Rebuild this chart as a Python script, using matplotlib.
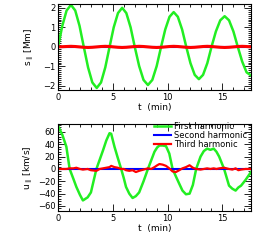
import matplotlib
matplotlib.use("Agg")
import matplotlib.pyplot as plt
from matplotlib.ticker import MultipleLocator

# ---- top panel: displacement (Mm) ----
t_s = [0.0, 0.39, 0.78, 1.18, 1.57, 1.96,
       2.35, 2.74, 3.13, 3.53, 3.92, 4.31,
       4.7, 5.08, 5.47, 5.85, 6.23, 6.62,
       7.0, 7.4, 7.8, 8.2, 8.6, 9.0,
       9.4, 9.78, 10.17, 10.55, 10.93, 11.32,
       11.7, 12.08, 12.47, 12.85, 13.23, 13.62,
       14.0, 14.4, 14.8, 15.2, 15.6, 16.0,
       16.4, 16.8, 17.2, 17.6]
s_first = [0.0, 1.08, 1.86, 2.15, 1.86, 1.08,
           0.0, -1.05, -1.82, -2.1, -1.82, -1.05,
           0.0, 1.0, 1.73, 2.0, 1.73, 1.0,
           0.0, -0.98, -1.69, -1.95, -1.69, -0.98,
           0.0, 0.89, 1.54, 1.78, 1.54, 0.89,
           0.0, -0.83, -1.43, -1.65, -1.43, -0.83,
           0.0, 0.79, 1.36, 1.57, 1.36, 0.79,
           0.0, -0.75, -1.3, -1.46]
s_second = [0.0] * len(t_s)
s_third = [0.0, 0.01, 0.02, 0.03, 0.02, 0.0,
           -0.02, -0.03, -0.02, 0.0, 0.02, 0.03,
           0.02, 0.0, -0.02, -0.03, -0.02, 0.0,
           0.02, 0.03, 0.02, 0.0, -0.02, -0.03,
           -0.02, 0.0, 0.02, 0.03, 0.02, 0.0,
           -0.02, -0.03, -0.02, 0.0, 0.02, 0.03,
           0.02, 0.0, -0.02, -0.03, -0.02, 0.0,
           0.02, 0.03, 0.02, 0.0]

# ---- bottom panel: velocity (km/s) ----
t_u = [0.0, 0.4, 0.76, 1.06, 1.4, 1.67, 2.0, 2.27, 2.7, 3.0, 3.5,
       3.8, 4.1, 4.4, 4.7, 4.85, 5.15, 5.45, 5.76, 6.0, 6.2, 6.5, 6.8,
       7.1, 7.4, 7.8, 8.2, 8.5, 8.8, 9.05, 9.25, 9.55, 9.85, 10.15,
       10.45, 10.75, 11.06, 11.35, 11.67, 12.0, 12.3, 12.6, 13.0, 13.3,
       13.6, 13.9, 14.2, 14.45, 14.7, 15.15, 15.6, 15.9, 16.2, 16.45,
       16.7, 17.1, 17.6]
u_first = [70, 55, 36, 0, -16, -29, -42, -51, -46, -38, 0,
           15, 30, 46, 58, 57, 36, 18, 0, -15, -29, -40, -47,
           -44, -38, -20, 0, 14, 28, 35, 38, 38, 37, 25,
           0, -12, -24, -35, -41, -40, -26, 0, 20, 29,
           33, 31, 33, 28, 20, 0, -27, -32, -35, -30,
           -27, -18, -5]
u_second = [0.0] * len(t_u)
u_third = [0, 0, 0, 1, 1, 2, 0, -1, 0, -2, -3,
           0, 1, 2, 3, 5, 3, 2, 0, 0, -2, -3, -2,
           -5, -3, -1, 1, 0, 3, 6, 8, 7, 5, 1,
           -4, -5, -2, 1, 3, 6, 2, 0, -1, 0,
           1, 0, 1, 0, 1, 2, 0, -1, 1, -2,
           -1, 0, 0]

plt.rcParams['font.family'] = ['DejaVu Sans']
plt.rcParams['font.size'] = 6

fig = plt.figure(figsize=(2.65, 2.43), dpi=100)
ax1 = fig.add_axes([0.219, 0.630, 0.728, 0.354])
ax2 = fig.add_axes([0.219, 0.132, 0.728, 0.358])

ax1.plot(t_s, s_first, color='#22ee22', lw=1.8)
ax1.plot(t_s, s_second, color='#0000ff', lw=1.5)
ax1.plot(t_s, s_third, color='#ff0000', lw=2.2)
ax1.set_xlim(0, 17.6)
ax1.set_ylim(-2.2, 2.2)
ax1.set_ylabel(r's$_\parallel$ [Mm]', labelpad=5, fontsize=6.5)
ax1.set_xlabel('t  (min)', labelpad=1, fontsize=6.5)
ax1.yaxis.set_major_locator(MultipleLocator(1))
ax1.yaxis.set_minor_locator(MultipleLocator(0.1))

ax2.plot(t_u, u_first, color='#22ee22', lw=1.8, label='First harmonic')
ax2.plot(t_u, u_second, color='#0000ff', lw=1.5, label='Second harmonic')
ax2.plot(t_u, u_third, color='#ff0000', lw=1.6, label='Third harmonic')
ax2.set_xlim(0, 17.6)
ax2.set_ylim(-68, 73)
ax2.set_ylabel(r'u$_\parallel$ [km/s]', labelpad=2, fontsize=6.5)
ax2.set_xlabel('t  (min)', labelpad=1, fontsize=6.5)
ax2.yaxis.set_major_locator(MultipleLocator(20))
ax2.yaxis.set_minor_locator(MultipleLocator(4))
ax2.legend(loc='upper right', frameon=False, fontsize=6, handlelength=2.0,
           handletextpad=0.4, labelspacing=0.0, borderaxespad=0.0,
           bbox_to_anchor=(1.0, 1.06))

for ax in (ax1, ax2):
    ax.xaxis.set_major_locator(MultipleLocator(5))
    ax.xaxis.set_minor_locator(MultipleLocator(1))
    ax.tick_params(which='both', direction='in', top=True, right=True, pad=2)
    ax.tick_params(which='major', length=5, width=0.6)
    ax.tick_params(which='minor', length=2.5, width=0.6)
    for sp in ax.spines.values():
        sp.set_linewidth(0.8)

fig.savefig('out.png', dpi=100)
